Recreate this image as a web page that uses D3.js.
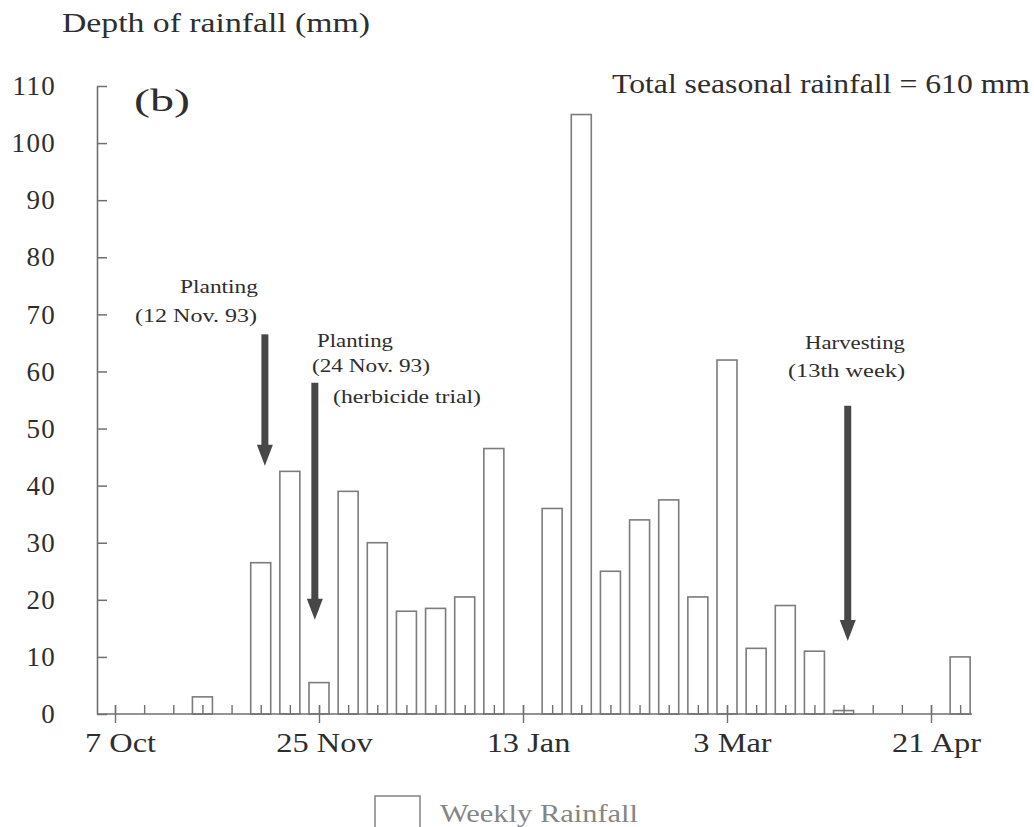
<!DOCTYPE html>
<html>
<head>
<meta charset="utf-8">
<script src="https://cdn.jsdelivr.net/npm/d3@7/dist/d3.min.js"></script>
<style>
  html, body { margin: 0; padding: 0; background: #fff; }
  svg { display: block; }
  text { font-family: "Liberation Serif", "Times New Roman", serif; }
</style>
</head>
<body>
<svg id="chart" width="1034" height="827"></svg>
<script>
// ---------------- data ----------------
const startDate = "1993-10-07";            // first week of the season
const weekOffsets = d3.range(0, 30);        // weekly categories (weeks after 7 Oct 1993)
const weeklyRainfall = [
  0, 0, 0, 3, 0, 26.5, 42.5, 5.5, 39, 30,
  18, 18.5, 20.5, 46.5, 0, 36, 105, 25, 34, 37.5,
  20.5, 62, 11.5, 19, 11, 0.6, 0, 0, 0, 10
];
const xTickDates = ["1993-10-07", "1993-11-25", "1994-01-13", "1994-03-03", "1994-04-21"];
const xTickLabels = ["7 Oct", "25 Nov", "13 Jan", "3 Mar", "21 Apr"];
const yTicks = [0, 10, 20, 30, 40, 50, 60, 70, 80, 90, 100, 110];
const arrowDates = ["1993-11-12", "1993-11-24", "1994-04-01"];
const arrowFrom = [66.5, 58, 54];
const arrowTo = [43.5, 16.5, 12.8];

// ---------------- layout ----------------
const svg = d3.select("#chart");
const parse = d3.timeParse("%Y-%m-%d");
const day0 = parse(startDate);
const weekDates = weekOffsets.map(w => d3.timeDay.offset(day0, w * 7));

const x = d3.scaleTime()
  .domain([parse(xTickDates[0]), parse(xTickDates[4])])
  .range([115, 931]);
const y = d3.scaleLinear().domain([0, 110]).range([714, 86]);

const axisColor = "#707070";
const textColor = "#2e2e2e";

function label(px, py, str, size, width, color) {
  const t = svg.append("text")
    .attr("x", px).attr("y", py)
    .attr("font-size", size)
    .attr("fill", color || textColor)
    .text(str);
  if (width) t.attr("textLength", width).attr("lengthAdjust", "spacingAndGlyphs");
  return t;
}

// bars
const barW = 20;
const bars = weekDates.map((d, i) => ({ date: d, v: weeklyRainfall[i] })).filter(d => d.v > 0);
svg.append("g").selectAll("rect").data(bars).join("rect")
  .attr("x", d => x(d.date) - barW / 2)
  .attr("y", d => y(d.v))
  .attr("width", barW)
  .attr("height", d => y(0) - y(d.v))
  .attr("fill", "#fff")
  .attr("stroke", "#7c7c7c")
  .attr("stroke-width", 1.6);

// y axis (ticks pointing inward)
const yAxis = svg.append("g").attr("transform", "translate(97,0)")
  .call(d3.axisLeft(y).tickValues(yTicks).tickSize(-10).tickPadding(41).tickSizeOuter(0));
yAxis.select(".domain").attr("stroke", axisColor).attr("stroke-width", 1.6);
yAxis.selectAll(".tick line").attr("stroke", axisColor).attr("stroke-width", 1.5);
yAxis.selectAll(".tick text")
  .attr("font-size", 27).attr("fill", textColor)
  .attr("font-family", "Liberation Serif").attr("letter-spacing", 1.3);

// x axis baseline
svg.append("line").attr("x1", 97).attr("x2", 972).attr("y1", y(0)).attr("y2", y(0))
  .attr("stroke", axisColor).attr("stroke-width", 1.6);

// minor weekly ticks (upward)
const minor = svg.append("g").attr("transform", `translate(0,${y(0)})`)
  .call(d3.axisBottom(x).tickValues(weekDates).tickSize(-9).tickFormat(""));
minor.select(".domain").remove();
minor.selectAll(".tick line").attr("stroke", axisColor).attr("stroke-width", 1.4);

// major ticks crossing the axis with labels
const major = svg.append("g").attr("transform", `translate(0,${y(0)})`)
  .call(d3.axisBottom(x).tickValues(xTickDates.map(parse))
    .tickSize(9).tickPadding(10)
    .tickFormat((d, i) => xTickLabels[i]));
major.select(".domain").remove();
major.selectAll(".tick line").attr("y1", -9).attr("stroke", axisColor).attr("stroke-width", 1.4);
major.selectAll(".tick text")
  .attr("font-size", 27).attr("fill", textColor)
  .attr("font-family", "Liberation Serif")
  .attr("dx", 5)
  .each(function () {
    const w = this.getComputedTextLength();
    d3.select(this).attr("textLength", w * 1.2).attr("lengthAdjust", "spacingAndGlyphs");
  });

// arrows
const arrowColor = "#474747";
arrowDates.forEach((ds, i) => {
  const ax = x(parse(ds));
  const y1 = y(arrowFrom[i]), y2 = y(arrowTo[i]);
  const headL = 21, headW = 8;
  svg.append("line").attr("x1", ax).attr("x2", ax).attr("y1", y1).attr("y2", y2 - headL + 2)
    .attr("stroke", arrowColor).attr("stroke-width", 7);
  svg.append("path")
    .attr("d", `M${ax - headW},${y2 - headL} L${ax + headW},${y2 - headL} L${ax},${y2} Z`)
    .attr("fill", arrowColor);
});

// texts
label(62, 32, "Depth of rainfall (mm)", 27, 308);
label(134, 111, "(b)", 32, 56);
label(612, 93, "Total seasonal rainfall = 610 mm", 27, 418);
label(180, 293, "Planting", 18, 78);
label(135, 322, "(12 Nov. 93)", 18, 122);
label(317, 347, "Planting", 18, 76);
label(312, 372, "(24 Nov. 93)", 18, 118);
label(333, 403, "(herbicide trial)", 18, 148);
label(805, 349, "Harvesting", 18, 100);
label(788, 377, "(13th week)", 18, 117);

// legend
svg.append("rect").attr("x", 375).attr("y", 796).attr("width", 45).attr("height", 40)
  .attr("fill", "#fff").attr("stroke", "#8a8a8a").attr("stroke-width", 1.6);
label(440, 822, "Weekly Rainfall", 26, 198, "#858585");
</script>
</body>
</html>
